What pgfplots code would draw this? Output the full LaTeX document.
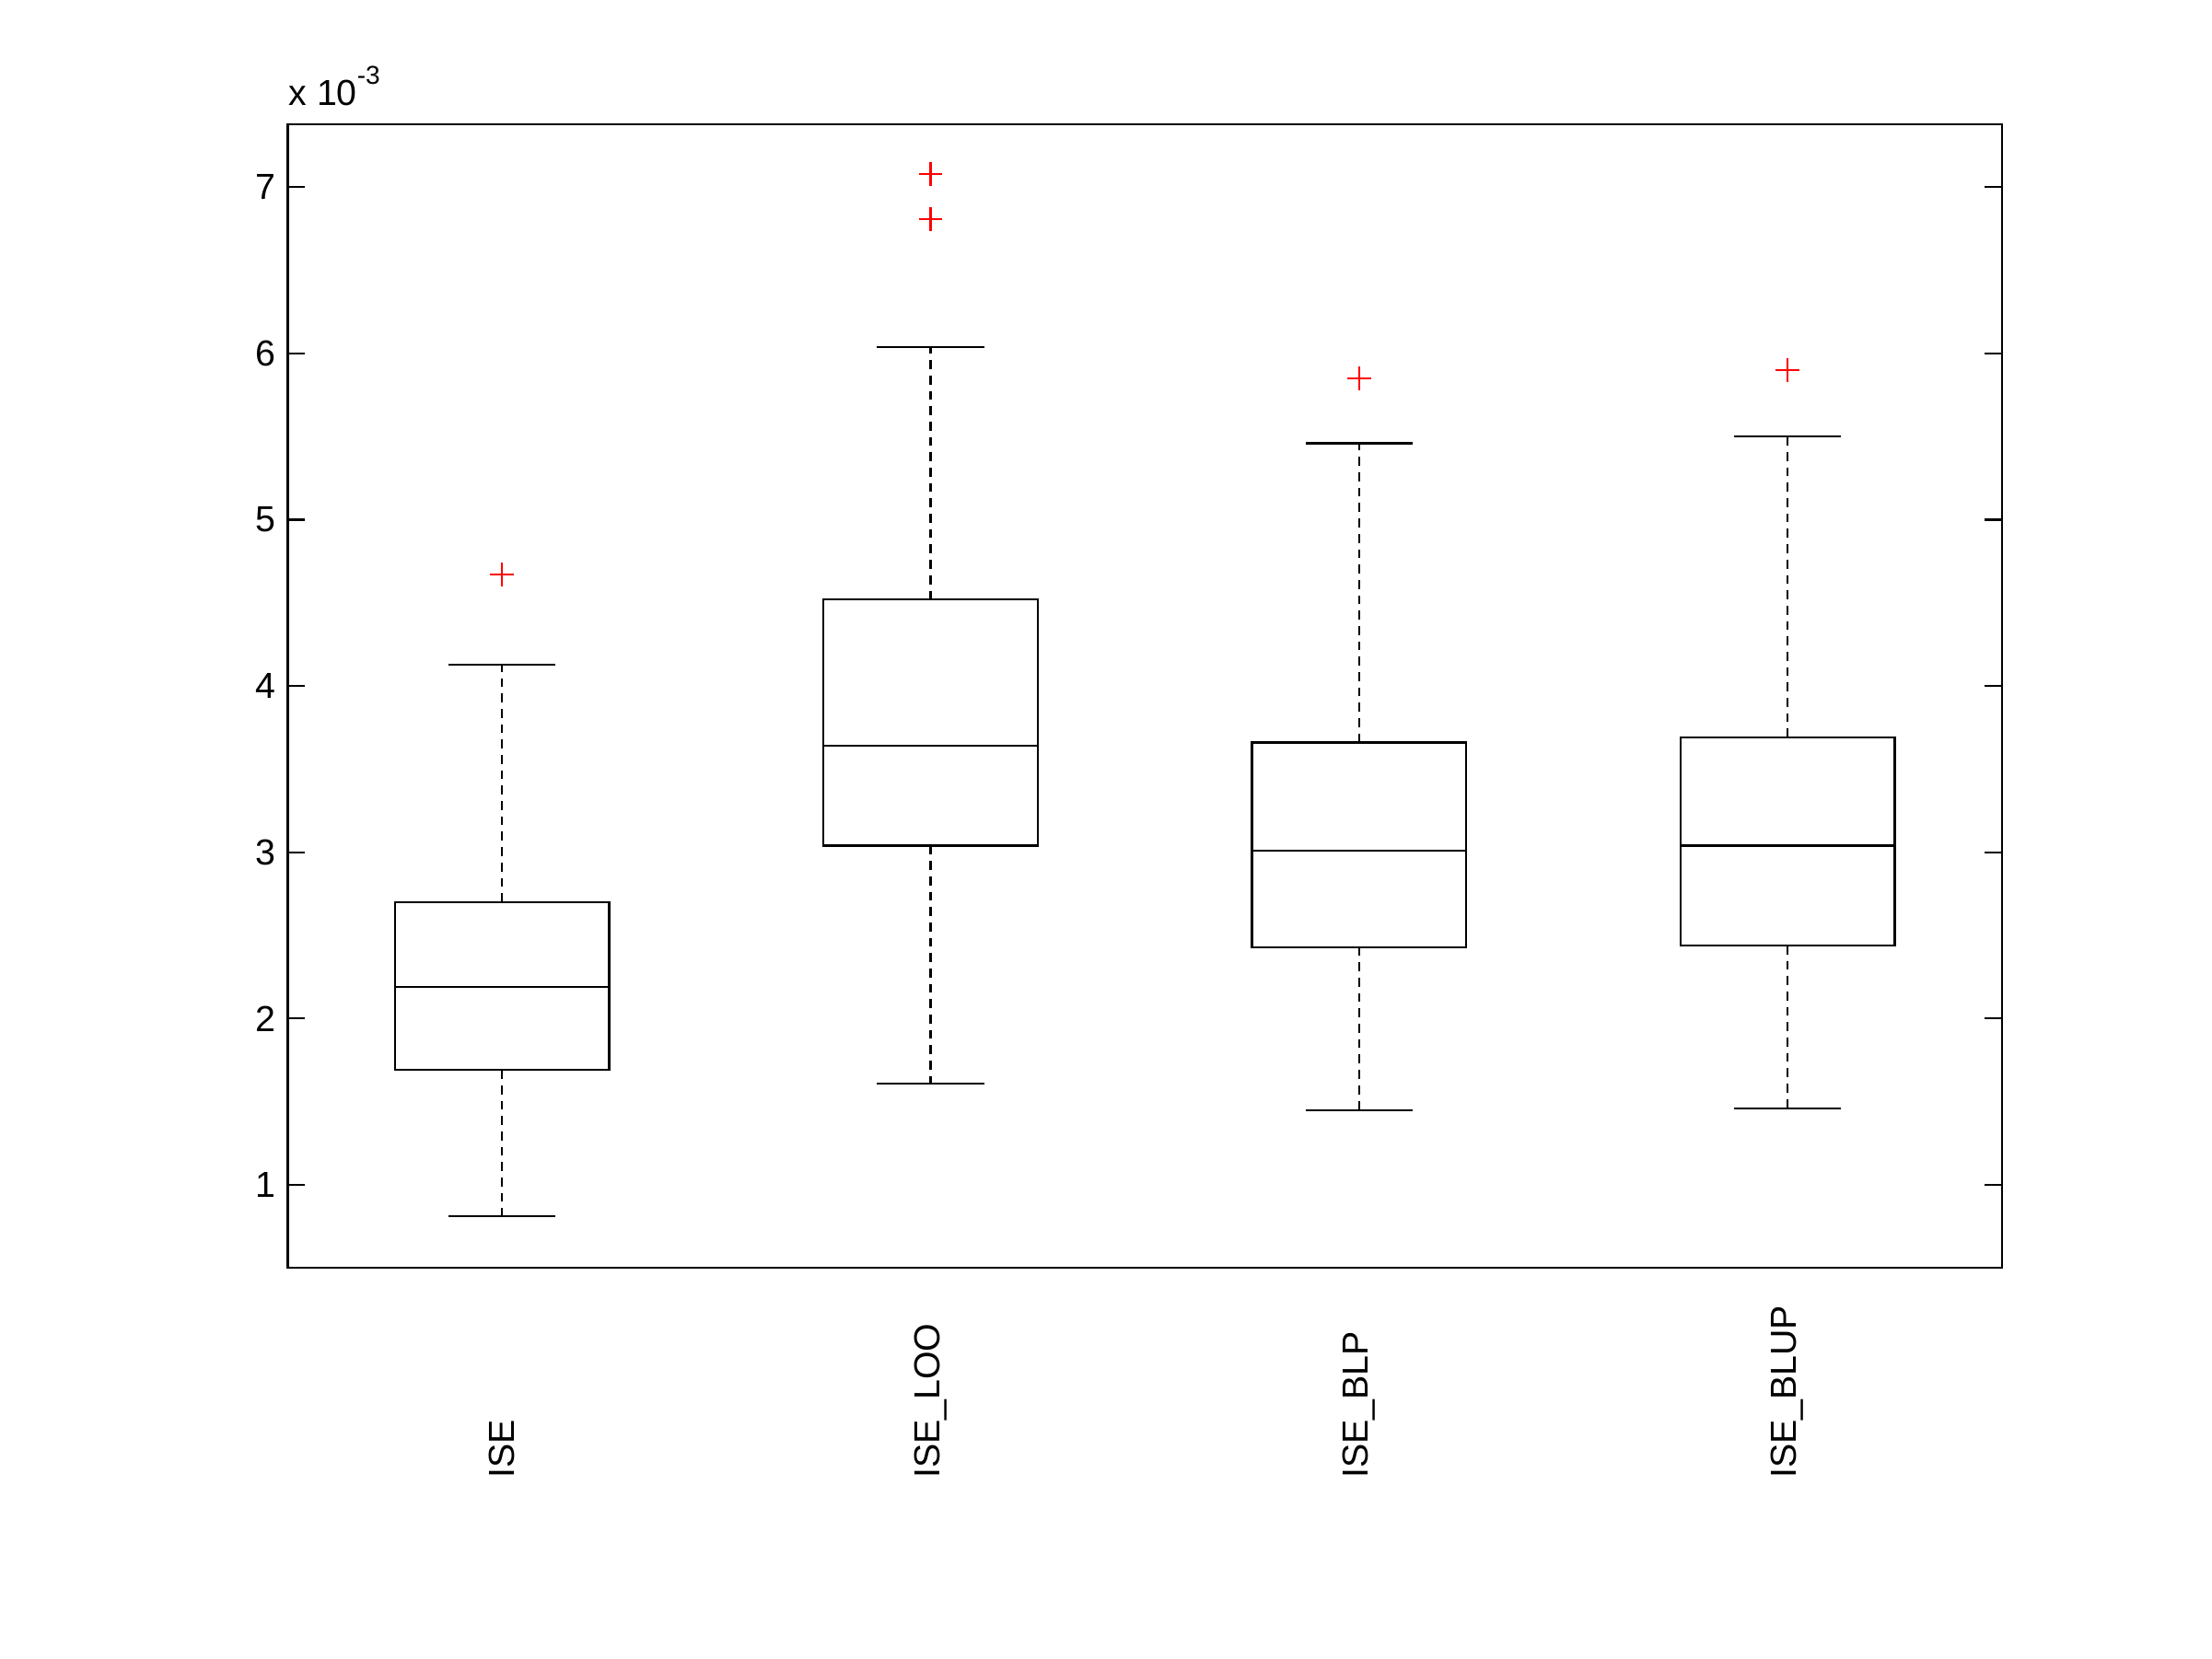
\documentclass[border=0pt]{standalone}
\usepackage{fontspec}
\setmainfont{Liberation Sans}
\usepackage{pgfplots}
\pgfplotsset{compat=1.18}
\usepgfplotslibrary{statistics}
\begin{document}
\fontsize{7.3}{8.8}\selectfont
\begin{tikzpicture}
\begin{axis}[
  scale only axis,
  clip=false,
  width=121.5mm, height=81.1mm,
  xmin=0.5, xmax=4.5, ymin=0.5, ymax=7.38,
  axis line style={line width=0.4pt, black},
  xtick={1,2,3,4},
  xticklabels={ISE,ISE\_LOO,ISE\_BLP,ISE\_BLUP},
  x tick style={draw=none},
  xticklabel style={rotate=90, anchor=west, inner sep=0pt},
  xticklabel shift=15mm,
  ytick={1,2,3,4,5,6,7},
  tick align=inside,
  major tick length=1.2mm,
  ytick pos=both,
  yticklabel pos=left,
  y tick style={line width=0.4pt, black},
  yticklabel style={inner sep=0pt, xshift=-0.8mm},
  /pgf/number format/assume math mode=true,
  tick label style={font=\fontsize{7.3}{8.8}\selectfont},
  boxplot/draw direction=y,
  boxplot/box extend=0.5,
  boxplot/whisker extend=0.25,
  boxplot/draw/lower whisker/.code={
    \draw[black, line width=0.4pt, dash pattern=on 1.8pt off 1.3pt]
      (boxplot box cs:\pgfplotsboxplotvalue{lower quartile},0.5) --
      (boxplot box cs:\pgfplotsboxplotvalue{lower whisker},0.5);
    \draw[black, line width=0.4pt]
      (boxplot whisker cs:\pgfplotsboxplotvalue{lower whisker},0) --
      (boxplot whisker cs:\pgfplotsboxplotvalue{lower whisker},1);
  },
  boxplot/draw/upper whisker/.code={
    \draw[black, line width=0.4pt, dash pattern=on 1.8pt off 1.3pt]
      (boxplot box cs:\pgfplotsboxplotvalue{upper quartile},0.5) --
      (boxplot box cs:\pgfplotsboxplotvalue{upper whisker},0.5);
    \draw[black, line width=0.4pt]
      (boxplot whisker cs:\pgfplotsboxplotvalue{upper whisker},0) --
      (boxplot whisker cs:\pgfplotsboxplotvalue{upper whisker},1);
  },
  every axis plot/.append style={black, line width=0.4pt, solid, mark=+, mark size=2.4pt, mark options={red, solid, line width=0.4pt}},
]
% ISE
\addplot[boxplot prepared={draw position=1,
  lower whisker=0.81, lower quartile=1.69, median=2.19,
  upper quartile=2.70, upper whisker=4.13}]
  table[row sep=\\, y index=0] {4.67\\};
% ISE_LOO
\addplot[boxplot prepared={draw position=2,
  lower whisker=1.61, lower quartile=3.04, median=3.64,
  upper quartile=4.52, upper whisker=6.04}]
  table[row sep=\\, y index=0] {7.08\\ 6.81\\};
% ISE_BLP
\addplot[boxplot prepared={draw position=3,
  lower whisker=1.45, lower quartile=2.43, median=3.01,
  upper quartile=3.66, upper whisker=5.46}]
  table[row sep=\\, y index=0] {5.85\\};
% ISE_BLUP
\addplot[boxplot prepared={draw position=4,
  lower whisker=1.46, lower quartile=2.44, median=3.04,
  upper quartile=3.69, upper whisker=5.50}]
  table[row sep=\\, y index=0] {5.90\\};
\node[anchor=base west, inner sep=0pt] at ([yshift=1.3mm]rel axis cs:0,1)
  {x 10\raisebox{4.3pt}{\fontsize{5.2}{6}\selectfont -3}};
\end{axis}
\path ([xshift=-20.4mm,yshift=-27.7mm]current axis.south west) rectangle ([xshift=14.9mm,yshift=8.8mm]current axis.north east);
\end{tikzpicture}
\end{document}
